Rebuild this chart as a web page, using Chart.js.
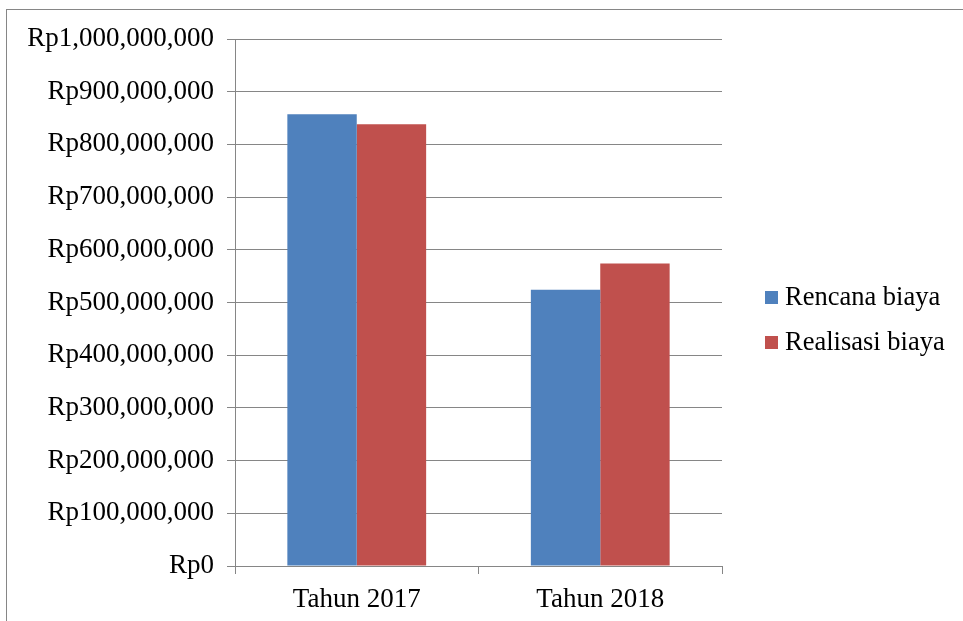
<!DOCTYPE html>
<html>
<head>
<meta charset="utf-8">
<script src="https://cdn.jsdelivr.net/npm/chart.js@4/dist/chart.umd.min.js"></script>
<style>
  html, body { margin: 0; padding: 0; background: #fff; overflow: hidden; }
  .wrap { position: relative; width: 963px; height: 621px; }
  .frame { position: absolute; left: 6px; top: 9px; width: 1200px; height: 1200px; border: 1px solid #868686; box-sizing: border-box; }
  canvas { position: absolute; left: 0; top: 0; }
</style>
</head>
<body>
<div class="wrap">
  <div class="frame"></div>
  <canvas id="chart" width="963" height="621"></canvas>
</div>
<script>
const categories = ["Tahun 2017", "Tahun 2018"];
const seriesNames = ["Rencana biaya", "Realisasi biaya"];
const rencana = [857000000, 524000000];
const realisasi = [838000000, 574000000];
const seriesColors = ["#4F81BD", "#C0504D"];

const FONT = "'Liberation Serif', 'Times New Roman', serif";

function rupiah(v) {
    return "Rp" + Math.round(v).toString().replace(/\B(?=(\d{3})+(?!\d))/g, ",");
}

// legend drawn by hand so it sits where the original puts it
const sideLegend = {
    id: "sideLegend",
    afterDraw(chart) {
        const ctx = chart.ctx;
        const tops = [291, 336];
        ctx.save();
        ctx.font = "26.5px " + FONT;
        ctx.textBaseline = "alphabetic";
        ctx.textAlign = "left";
        chart.data.datasets.forEach((ds, i) => {
            ctx.fillStyle = ds.backgroundColor;
            ctx.fillRect(765, tops[i], 13, 13);
            ctx.fillStyle = "#000";
            ctx.fillText(ds.label, 785, tops[i] + 14);
        });
        ctx.restore();
    }
};

new Chart(document.getElementById("chart").getContext("2d"), {
    type: "bar",
    data: {
        labels: categories,
        datasets: [
            { label: seriesNames[0], data: rencana, backgroundColor: seriesColors[0] },
            { label: seriesNames[1], data: realisasi, backgroundColor: seriesColors[1] },
        ],
    },
    options: {
        responsive: false,
        animation: false,
        layout: { padding: { top: 39, right: 241, bottom: 0, left: 0 } },
        datasets: {
            bar: { barPercentage: 1.0, categoryPercentage: 0.57 },
        },
        plugins: {
            legend: { display: false },
            tooltip: { enabled: false },
        },
        scales: {
            x: {
                grid: {
                    drawOnChartArea: false,
                    drawTicks: true,
                    tickLength: 8,
                    color: "#868686",
                    offset: true,
                },
                border: { color: "#868686", width: 1 },
                ticks: { color: "#000", font: { family: FONT, size: 27 }, padding: 10 },
                afterFit(scale) { scale.height = 55; },
            },
            y: {
                min: 0,
                max: 1000000000,
                grid: { color: "#868686", tickLength: 8, lineWidth: 1 },
                border: { color: "#868686", width: 1 },
                ticks: {
                    stepSize: 100000000,
                    color: "#000",
                    padding: 13,
                    font: { family: FONT, size: 27 },
                    callback: (v) => rupiah(v),
                },
                afterFit(scale) { scale.width = 235; },
            },
        },
    },
    plugins: [sideLegend],
});
</script>
</body>
</html>
